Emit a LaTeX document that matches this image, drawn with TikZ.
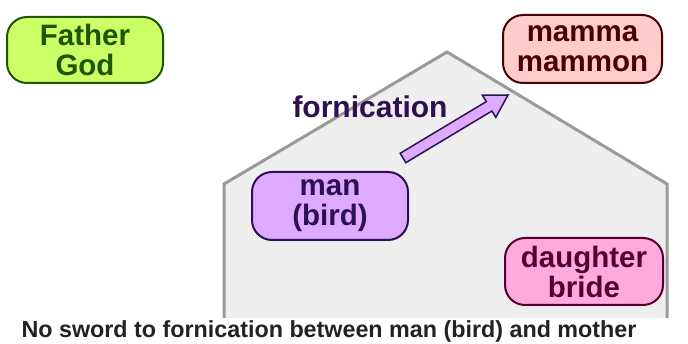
\documentclass[tikz,border=0pt]{standalone}
\usepackage{fontspec}
\setmainfont{Liberation Sans}
\definecolor{godfill}{HTML}{CCFF66}
\definecolor{goddraw}{HTML}{1F5500}
\definecolor{mamfill}{HTML}{FFCCCC}
\definecolor{mamdraw}{HTML}{4D0000}
\definecolor{manfill}{HTML}{DDAAFF}
\definecolor{mandraw}{HTML}{2D1050}
\definecolor{daufill}{HTML}{FFAADD}
\definecolor{daudraw}{HTML}{550030}
\definecolor{housefill}{HTML}{EEEEEE}
\definecolor{housedraw}{HTML}{999999}
\definecolor{captext}{HTML}{222222}
\tikzset{
  roundbox/.style={rounded corners=20pt, line width=2pt, align=center,
    inner sep=0pt, font=\bfseries\fontsize{29.5}{30}\selectfont},
  labeltext/.style={font=\bfseries\fontsize{30}{32}\selectfont},
}
\begin{document}
\begin{tikzpicture}[x=1pt,y=-1pt]
\useasboundingbox (0,0) rectangle (688,344);
% house
\fill[housefill] (224,318) -- (224,184) -- (447,52) -- (667,184) -- (667,318) -- cycle;
\draw[housedraw, line width=3pt] (224,318) -- (224,184) -- (447,52) -- (667,184) -- (667,318);
% boxes
\node[roundbox, fill=godfill, draw=goddraw, text=goddraw, minimum width=156pt, minimum height=66pt] (god) at (85,50) {Father\\God};
\node[roundbox, fill=mamfill, draw=mamdraw, text=mamdraw, minimum width=159pt, minimum height=68pt] (mammon) at (582.5,49) {mamma\\mammon};
\node[roundbox, fill=manfill, draw=mandraw, text=mandraw, minimum width=156pt, minimum height=68pt] (man) at (330,206) {man\\(bird)};
\node[roundbox, fill=daufill, draw=daudraw, text=daudraw, minimum width=158pt, minimum height=67pt] (daughter) at (584,271.5) {daughter\\bride};
% fornication arrow
\coordinate (tail) at (403,158);
\coordinate (tip) at (508,95);
\filldraw[fill=manfill, draw=mandraw, line width=1.5pt, line join=miter]
  (400.2,153.3) -- (486.3,101.6) -- (482.4,95.2) -- (tip) -- (495.8,117.4) -- (491.9,111.0) -- (405.8,162.7) -- cycle;
\node[labeltext, text=mandraw] (forn) at (370,107) {fornication};
% caption
\node[font=\bfseries\fontsize{23.3}{26}\selectfont, text=captext] (cap) at (329,331) {No sword to fornication between man (bird) and mother};
\end{tikzpicture}
\end{document}
